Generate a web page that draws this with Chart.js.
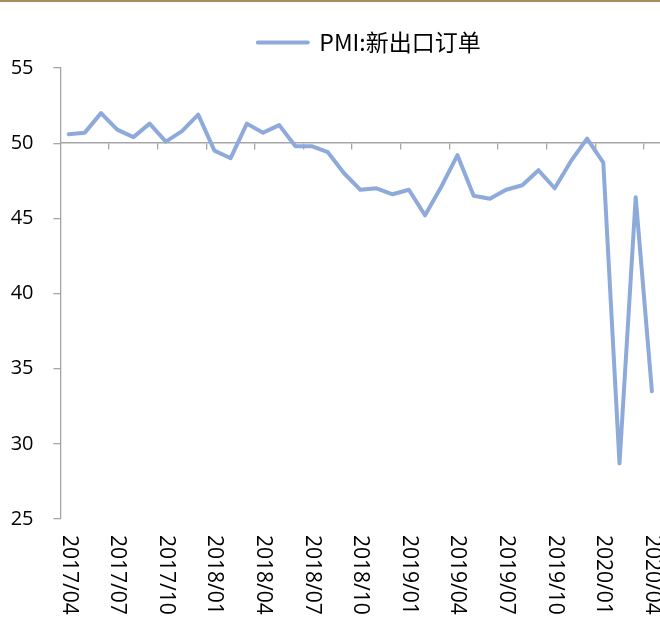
<!DOCTYPE html>
<html><head><meta charset="utf-8">
<script src="https://cdn.jsdelivr.net/npm/chart.js@4.4.0/dist/chart.umd.min.js"></script>
<style>
html,body{margin:0;padding:0;background:#fff;}
#wrap{position:relative;width:660px;height:619px;}
#topline{position:absolute;left:0;top:0;width:660px;height:2px;background:#a88d5c;}
canvas{display:block;}
</style></head><body>
<div id="wrap"><canvas id="c" width="660" height="619"></canvas><div id="topline"></div></div>
<script>
const seriesName = 'PMI:新出口订单';
const months = [
  '2017/04','2017/05','2017/06','2017/07','2017/08','2017/09','2017/10','2017/11','2017/12',
  '2018/01','2018/02','2018/03','2018/04','2018/05','2018/06','2018/07','2018/08','2018/09','2018/10','2018/11','2018/12',
  '2019/01','2019/02','2019/03','2019/04','2019/05','2019/06','2019/07','2019/08','2019/09','2019/10','2019/11','2019/12',
  '2020/01','2020/02','2020/03','2020/04'
];
const newExportOrders = [
  50.6,50.7,52.0,50.9,50.4,51.3,50.1,50.8,51.9,
  49.5,49.0,51.3,50.7,51.2,49.8,49.8,49.4,48.0,46.9,47.0,46.6,
  46.9,45.2,47.1,49.2,46.5,46.3,46.9,47.2,48.2,47.0,48.8,50.3,
  48.7,28.7,46.4,33.5
];
const yMin = 25, yMax = 55, yStep = 5;
const axisCross = 50;
const labelInterval = 3;

const AXIS = '#a6a6a6';

const bottomLabels = {
  id: 'bottomLabels',
  afterDraw(chart) {
    const xs = chart.scales.x, ctx = chart.ctx, area = chart.chartArea;
    ctx.save();
    ctx.font = '21px "Open Sans", "DejaVu Sans", sans-serif';
    ctx.fillStyle = '#000';
    ctx.textBaseline = 'middle';
    ctx.textAlign = 'left';
    months.forEach((m, i) => {
      if (i % labelInterval) return;
      const x = xs.getPixelForValue(i);
      ctx.save();
      ctx.translate(x, area.bottom + 16);
      ctx.rotate(Math.PI / 2);
      ctx.fillText(m, 0, 0);
      ctx.restore();
    });
    ctx.restore();
  }
};

const legendTweak = {
  id: 'legendTweak',
  beforeInit(chart) {
    const lg = chart.legend;
    if (!lg) return;
    const origFit = lg.fit;
    lg.fit = function () { origFit.call(this); this.height += 4; };
  },
  afterLayout(chart) {
    const lg = chart.legend;
    if (!lg) return;
    lg.left += 9; lg.right += 9;
  }
};

new Chart(document.getElementById('c'), {
  type: 'line',
  data: {
    labels: months,
    datasets: [{
      label: seriesName,
      data: newExportOrders,
      borderColor: '#8eaadb',
      backgroundColor: '#8eaadb',
      borderWidth: 4,
      pointRadius: 0,
      tension: 0,
      borderJoinStyle: 'round',
      borderCapStyle: 'round'
    }]
  },
  options: {
    responsive: false,
    animation: false,
    devicePixelRatio: 1,
    layout: { padding: { left: 10, right: 0, top: 16, bottom: 100 } },
    plugins: {
      legend: {
        position: 'top',
        fullSize: false,
        labels: {
          boxWidth: 50,
          boxHeight: 0,
          color: '#000',
          padding: 15,
          font: { size: 23, family: '"Noto Sans CJK SC"' }
        }
      },
      tooltip: { enabled: false }
    },
    scales: {
      y: {
        min: yMin, max: yMax,
        afterFit: s => { s.width = 50.5; },
        ticks: { stepSize: yStep, padding: 20, color: '#000', font: { size: 20, family: '"Open Sans"' } },
        grid: { drawOnChartArea: false, tickLength: 7, color: AXIS, lineWidth: 1.3 },
        border: { color: AXIS, width: 1.3 }
      },
      x: {
        type: 'category',
        position: { y: axisCross },
        offset: true,
        ticks: { display: false, autoSkip: false },
        grid: {
          offset: true,
          drawOnChartArea: false,
          tickLength: 6,
          lineWidth: 1.3,
          color: c => (c.index > 0 && c.index % labelInterval === 0) ? AXIS : 'rgba(0,0,0,0)'
        },
        border: { color: AXIS, width: 1.5 }
      }
    }
  },
  plugins: [bottomLabels, legendTweak]
});
</script>
</body></html>
